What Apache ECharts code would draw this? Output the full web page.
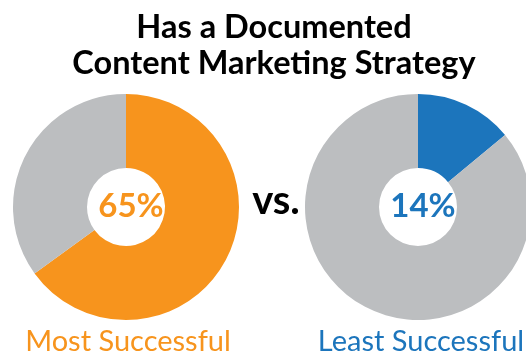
<!DOCTYPE html>
<html>
<head>
<meta charset="utf-8">
<script src="https://cdn.jsdelivr.net/npm/echarts@6/dist/echarts.min.js"></script>
<style>
	html, body { margin: 0; padding: 0; background: #fff; }
	#main { width: 526px; height: 357px; }
</style>
</head>
<body>
<div id="main"></div>
<script>
// data
var groups = ['Most Successful', 'Least Successful'];
var documented = [65, 14];
var centersX = [126, 418];
var mainColors = ['#F7941D', '#1C75BC'];
var restColor = '#BCBEC0';

var series = [];
var titles = [{
	text: 'Has a Documented\nContent Marketing Strategy',
	left: 269,
	top: 5,
	textAlign: 'center',
	textStyle: {
		fontFamily: 'Lato',
		fontWeight: 'bold',
		fontSize: 32.5,
		lineHeight: 36,
		color: '#000'
	}
}, {
	text: 'vs.',
	left: 271,
	top: 176,
	textAlign: 'center',
	textStyle: { fontFamily: 'Lato', fontWeight: 'bold', fontSize: 40, color: '#000' }
}];

groups.forEach(function (name, i) {
	series.push({
		name: name,
		type: 'pie',
		center: [centersX[i], 207],
		radius: [39, 113],
		startAngle: 90,
		clockwise: true,
		silent: true,
		label: { show: false },
		labelLine: { show: false },
		data: [
			{ value: documented[i], name: 'Yes', itemStyle: { color: mainColors[i] } },
			{ value: 100 - documented[i], name: 'No', itemStyle: { color: restColor } }
		]
	});
	titles.push({
		text: documented[i] + '%',
		left: centersX[i],
		top: 185,
		textAlign: 'center',
		textStyle: { fontFamily: 'Lato', fontWeight: 'bold', fontSize: 33, color: mainColors[i] }
	});
	titles.push({
		text: name,
		left: i === 0 ? 123 : 416,
		top: 322,
		textAlign: 'center',
		textStyle: { fontFamily: 'Lato', fontWeight: 'normal', fontSize: 29, color: mainColors[i] }
	});
});

var myChart = echarts.init(document.getElementById('main'));
myChart.setOption({
	animation: false,
	title: titles,
	series: series
});
</script>
</body>
</html>
